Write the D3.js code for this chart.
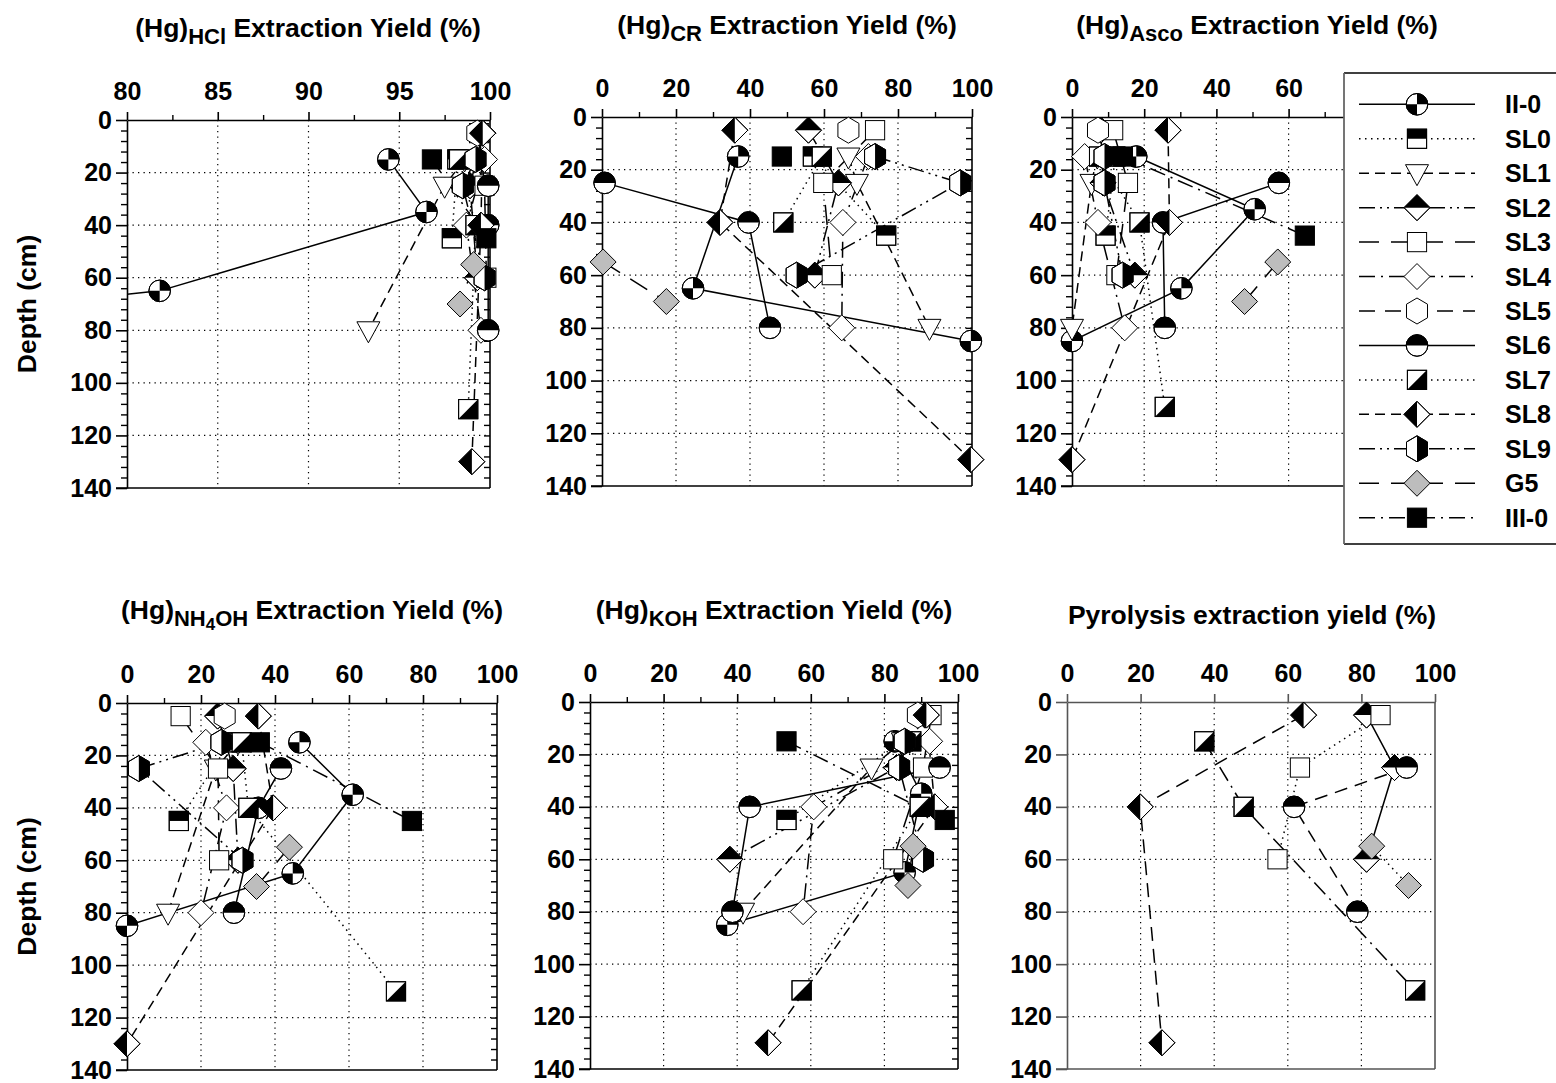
<!DOCTYPE html>
<html><head><meta charset="utf-8">
<script src="https://cdn.jsdelivr.net/npm/d3@7"></script>
<style>
body{margin:0;background:#fff}
text{font-family:"Liberation Sans",Arial,Helvetica,sans-serif;font-weight:bold;fill:#000}
</style>
</head><body>
<svg id="c" width="1556" height="1083" xmlns="http://www.w3.org/2000/svg"></svg>
<script>
// ---------------- DATA ----------------
const seriesNames = ["II-0","SL0","SL1","SL2","SL3","SL4","SL5","SL6","SL7","SL8","SL9","G5","III-0"];
const seriesDepths = [[15,35,65,85],[15,45],[15,25,80],[5,25,60],[5,25,60],[15,40,80],[5],[25,40,80],[15,40,110],[5,40,130],[15,25,60],[55,70],[15,45]];

const yieldHCl = [[94.4,96.5,81.8,54],[98.2,97.9],[98.6,97.5,93.3],[99.6,98.9,99.3],[99.4,99.7,99.8],[99.7,98.7,99.5],[99.3],[99.9,99.9,99.9],[98.3,99.2,98.8],[99.6,99.5,99.0],[99.2,98.5,99.7],[99.1,98.35],[96.8,99.8]];
const yieldCR = [[36.8,null,24.6,99.7],[57,76.8],[66.6,68.9,88.5],[55.8,63.9,57.5],[73.8,59.8,62.1],[72,65.1,64.8],[66.6],[0.7,39.6,45.4],[59.4,49,null],[35.9,31.9,99.7],[73.8,96.8,52.6],[0.3,17.4],[48.6,null]];
const yieldAsco = [[17.8,50.6,30.3,0],[12,9.3],[7,5.4,0],[8,8.6,17.4],[11.4,15.5,12.3],[3.5,7.2,14.6],[7.2],[57.3,25.2,25.7],[7.5,18.7,25.7],[26.6,27,0],[9,9,14],[57,47.8],[14.1,64.5]];
const yieldNH4OH = [[46.6,61,44.8,0],[27.8,14],[30,24,11.1],[24.5,28.7,30],[14.5,24.6,24.9],[21.3,26.9,20],[26.4],[41.6,35.5,28.9],[31,32.8,72.7],[35.5,39.5,0],[25.5,3.2,31.2],[43.9,35],[35.9,77]];
const yieldKOH = [[82.8,90,85.5,37.3],[85,53.4],[85,76.5,41.6],[91,83.3,38],[92.8,90.5,82.4],[92.3,60.8,57.9],[89.1],[95,43.4,38.7],[87.3,89.6,57.5],[91.4,93.7,48.4],[85.5,84,90.5],[87.8,86.4],[53.4,96.4]];
const yieldPyro = [[null,null,null,null],[null,null],[null,null,null],[81.4,89,81.4],[85.2,63.3,57.2],[null,null,null],[null],[92.3,61.7,78.9],[37.3,48,94.6],[64.3,19.9,25.8],[null,null,null],[82.8,92.8],[null,null]];

const depthTicks = [0,20,40,60,80,100,120,140];
const hclTicks = [80,85,90,95,100];
const pctTicks = [0,20,40,60,80,100];

// ---------------- STYLE ----------------
const dashOf = {"II-0":null,"SL0":"1.5,4.5","SL1":"10,6","SL2":"16,5,2,5,2,5","SL3":"20,12","SL4":"16,6,2,6","SL5":"16,10","SL6":null,"SL7":"1.5,4.5","SL8":"10,6","SL9":"16,5,2,5,2,5","G5":"20,12","III-0":"16,6,2,6"};
const pyroDash = {"SL2":null,"SL3":"1.5,4.5","SL6":"13,8","SL7":"16,6,2,6","SL8":"14,8","G5":"1.5,4.5"};

const TF = 26.5, TS = 22, TS2 = 17;
const panels = [
  {data:yieldHCl, dom:[80,100], ticks:hclTicks, minor:2.5, x0:127,x1:490,y0:120,y1:488, title:[["(Hg)",0,TF],["HCl",7,TS],[" Extraction Yield (%)",-7,TF]], tx:308, ty:37, depthLabel:true},
  {data:yieldCR, dom:[0,100], ticks:pctTicks, minor:10, x0:602,x1:972,y0:117,y1:486, title:[["(Hg)",0,TF],["CR",7,TS],[" Extraction Yield (%)",-7,TF]], tx:787, ty:34},
  {data:yieldAsco, dom:[0,100], ticks:pctTicks, minor:10, x0:1072,x1:1433,y0:117,y1:486, title:[["(Hg)",0,TF],["Asco",7,TS],[" Extraction Yield (%)",-7,TF]], tx:1257, ty:34},
  {data:yieldNH4OH, dom:[0,100], ticks:pctTicks, minor:10, x0:127,x1:497,y0:703,y1:1070, title:[["(Hg)",0,TF],["NH",7,TS],["4",4,TS2],["OH",-4,TS],[" Extraction Yield (%)",-7,TF]], tx:312, ty:619, depthLabel:true},
  {data:yieldKOH, dom:[0,100], ticks:pctTicks, minor:10, x0:590,x1:958,y0:702,y1:1069, title:[["(Hg)",0,TF],["KOH",7,TS],[" Extraction Yield (%)",-7,TF]], tx:774, ty:619},
  {data:yieldPyro, dom:[0,100], ticks:pctTicks, minor:null, x0:1067,x1:1435,y0:702,y1:1069, title:[["Pyrolysis extraction yield  (%)",0,TF]], tx:1252, ty:624, plain:true}
];

const svg = d3.select("#c");
const defs = svg.append("defs");

function drawMarker(g, s) {
  const sw = 1;
  const r = 10.8, h = 9.6, d = 13;
  const hex = "M0,-13 L10.5,-6.8 L10.5,6.8 L0,13 L-10.5,6.8 L-10.5,-6.8 Z";
  const base = (sel, fill) => sel.attr("fill", fill).attr("stroke","#000").attr("stroke-width",sw);
  const blk = (p) => g.append("path").attr("d", p).attr("fill","#000").attr("stroke","none");
  const outline = (sel) => sel.attr("fill","none").attr("stroke","#000").attr("stroke-width",sw);
  const diamond = `M0,${-d} L${d},0 L0,${d} L${-d},0 Z`;
  switch (s) {
    case "II-0":
      base(g.append("circle").attr("r", r), "#fff");
      blk(`M0,0 L0,${-r} A${r},${r} 0 0 1 ${r},0 Z`);
      blk(`M0,0 L0,${r} A${r},${r} 0 0 1 ${-r},0 Z`);
      outline(g.append("circle").attr("r", r));
      break;
    case "SL6":
      base(g.append("circle").attr("r", r), "#fff");
      blk(`M${-r},0 A${r},${r} 0 0 1 ${r},0 Z`);
      outline(g.append("circle").attr("r", r));
      break;
    case "SL0":
      base(g.append("rect").attr("x",-h).attr("y",-h).attr("width",2*h).attr("height",2*h), "#fff");
      blk(`M${-h},${-h} H${h} V0 H${-h} Z`);
      outline(g.append("rect").attr("x",-h).attr("y",-h).attr("width",2*h).attr("height",2*h));
      break;
    case "SL3":
      base(g.append("rect").attr("x",-h).attr("y",-h).attr("width",2*h).attr("height",2*h), "#fff");
      break;
    case "III-0":
      base(g.append("rect").attr("x",-h).attr("y",-h).attr("width",2*h).attr("height",2*h), "#000");
      break;
    case "SL7":
      base(g.append("rect").attr("x",-h).attr("y",-h).attr("width",2*h).attr("height",2*h), "#fff");
      blk(`M${h},${-h} L${h},${h} L${-h},${h} Z`);
      outline(g.append("rect").attr("x",-h).attr("y",-h).attr("width",2*h).attr("height",2*h));
      break;
    case "SL1":
      base(g.append("path").attr("d","M-11.5,-8.5 L11.5,-8.5 L0,12.5 Z"), "#fff");
      break;
    case "SL2":
      base(g.append("path").attr("d",diamond), "#fff");
      blk(`M${-d},0 L0,${-d} L${d},0 Z`);
      outline(g.append("path").attr("d",diamond));
      break;
    case "SL8":
      base(g.append("path").attr("d",diamond), "#fff");
      blk(`M0,${-d} L${-d},0 L0,${d} Z`);
      outline(g.append("path").attr("d",diamond));
      break;
    case "SL4":
      base(g.append("path").attr("d",diamond), "#fff");
      break;
    case "G5":
      base(g.append("path").attr("d",diamond), "#bdbdbd");
      break;
    case "SL5":
      base(g.append("path").attr("d",hex), "#fff");
      break;
    case "SL9":
      base(g.append("path").attr("d",hex), "#fff");
      blk("M0,-13 L10.5,-6.8 L10.5,6.8 L0,13 Z");
      outline(g.append("path").attr("d",hex));
      break;
  }
}

panels.forEach((p, pi) => {
  const x = d3.scaleLinear().domain(p.dom).range([p.x0, p.x1]);
  const y = d3.scaleLinear().domain([0,140]).range([p.y0, p.y1]);
  const g = svg.append("g");
  const frameCol = p.plain ? "#555" : "#000";

  // gridlines
  const gx = p.ticks.filter(t => t > p.dom[0] && t < p.dom[1]);
  const gy = depthTicks.filter(t => t > 0 && t < 140);
  g.append("g").selectAll("line").data(gx).join("line")
    .attr("x1", d => x(d)).attr("x2", d => x(d)).attr("y1", p.y0).attr("y2", p.y1)
    .attr("stroke","#000").attr("stroke-width",1.2).attr("stroke-dasharray","1.3,4.2");
  g.append("g").selectAll("line").data(gy).join("line")
    .attr("x1", p.x0).attr("x2", p.x1).attr("y1", d => y(d)).attr("y2", d => y(d))
    .attr("stroke","#000").attr("stroke-width",1.2).attr("stroke-dasharray","1.3,4.2");

  // frame: bottom and right
  g.append("line").attr("x1", p.x0-11).attr("x2", p.x1).attr("y1", p.y1).attr("y2", p.y1)
    .attr("stroke", frameCol).attr("stroke-width",1.6);
  g.append("line").attr("x1", p.x1).attr("x2", p.x1).attr("y1", p.y0).attr("y2", p.y1)
    .attr("stroke", frameCol).attr("stroke-width",1.6);

  // top axis
  const topAxis = d3.axisTop(x).tickValues(p.ticks).tickSizeOuter(0).tickSizeInner(8).tickPadding(12).tickFormat(d3.format("d"));
  const ta = g.append("g").attr("transform", `translate(0,${p.y0})`).call(topAxis);
  ta.select(".domain").attr("stroke", frameCol).attr("stroke-width",1.6);
  ta.selectAll(".tick line").attr("stroke", frameCol).attr("stroke-width",1.6);
  ta.selectAll(".tick text").attr("font-size", 25).attr("font-family", null).attr("fill","#000");
  if (p.minor) {
    const mv = d3.range(p.dom[0] + p.minor, p.dom[1], p.minor*2);
    const ma = d3.axisTop(x).tickValues(mv).tickSizeOuter(0).tickSizeInner(5).tickFormat("");
    const mg = g.append("g").attr("transform", `translate(0,${p.y0})`).call(ma);
    mg.select(".domain").remove();
    mg.selectAll(".tick line").attr("stroke","#000").attr("stroke-width",1.4);
  }

  // left axis
  const leftAxis = d3.axisLeft(y).tickValues(depthTicks).tickSizeOuter(0).tickSizeInner(11).tickPadding(4).tickFormat(d3.format("d"));
  const la = g.append("g").attr("transform", `translate(${p.x0},0)`).call(leftAxis);
  la.select(".domain").attr("stroke", frameCol).attr("stroke-width",1.6);
  la.selectAll(".tick line").attr("stroke", frameCol).attr("stroke-width",1.6);
  la.selectAll(".tick text").attr("font-size", 25).attr("font-family", null).attr("fill","#000");

  if (p.minor) {
    const mvy = d3.range(4, 140, 4).filter(v => v % 20 !== 0);
    const ml = d3.axisLeft(y).tickValues(mvy).tickSizeOuter(0).tickSizeInner(6).tickFormat("");
    const mlg = g.append("g").attr("transform", `translate(${p.x0},0)`).call(ml);
    mlg.select(".domain").remove();
    mlg.selectAll(".tick line").attr("stroke","#000").attr("stroke-width",1.4);
    const mr = d3.axisLeft(y).tickValues(d3.range(4, 140, 4)).tickSizeOuter(0).tickSizeInner(6).tickFormat("");
    const mrg = g.append("g").attr("transform", `translate(${p.x1},0)`).call(mr);
    mrg.select(".domain").remove();
    mrg.selectAll(".tick line").attr("stroke","#000").attr("stroke-width",1.4);
  }

  // title
  const t = g.append("text").attr("x", p.tx).attr("y", p.ty).attr("text-anchor","middle");
  p.title.forEach(([txt, dy, fs]) => {
    t.append("tspan").attr("dy", dy).attr("font-size", fs).text(txt);
  });

  if (p.depthLabel) {
    g.append("text").attr("transform", `translate(36,${(p.y0+p.y1)/2}) rotate(-90)`)
      .attr("text-anchor","middle").attr("font-size",26.5).text("Depth (cm)");
  }

  // clip for lines
  const cid = "clip" + pi;
  defs.append("clipPath").attr("id", cid).append("rect")
    .attr("x", p.x0).attr("y", p.y0).attr("width", p.x1 - p.x0).attr("height", p.y1 - p.y0);

  const line = d3.line().x(d => x(d.v)).y(d => y(d.depth));
  const pts = seriesNames.map((s, si) => seriesDepths[si].map((dep, k) => ({depth: dep, v: p.data[si][k]})).filter(d => d.v !== null && d.v !== undefined));

  const lg = g.append("g").attr("clip-path", `url(#${cid})`);
  seriesNames.forEach((s, si) => {
    if (pts[si].length < 2) return;
    const dash = p.plain && (s in pyroDash) ? pyroDash[s] : dashOf[s];
    lg.append("path").attr("d", line(pts[si])).attr("fill","none")
      .attr("stroke","#000").attr("stroke-width",1.5)
      .attr("stroke-dasharray", dash);
  });

  const mkg = g.append("g");
  seriesNames.forEach((s, si) => {
    pts[si].filter(d => d.v >= p.dom[0] && d.v <= p.dom[1]).forEach(d => {
      const m = mkg.append("g").attr("transform", `translate(${x(d.v)},${y(d.depth)})`);
      drawMarker(m, s);
    });
  });
});

// ---------------- LEGEND ----------------
const lgY = d3.scalePoint().domain(seriesNames).range([104.3, 517.7]);
const leg = svg.append("g");
leg.append("rect").attr("x",1344).attr("y",73).attr("width",260).attr("height",471)
  .attr("fill","#fff").attr("stroke","none");
leg.append("line").attr("x1",1344).attr("x2",1560).attr("y1",73).attr("y2",73).attr("stroke","#000").attr("stroke-width",1.6);
leg.append("line").attr("x1",1344).attr("x2",1560).attr("y1",544).attr("y2",544).attr("stroke","#000").attr("stroke-width",1.6);
leg.append("line").attr("x1",1344).attr("x2",1344).attr("y1",73).attr("y2",544).attr("stroke","#666").attr("stroke-width",1.8);
seriesNames.forEach(s => {
  const yy = lgY(s);
  leg.append("line").attr("x1",1359).attr("x2",1475).attr("y1",yy).attr("y2",yy)
    .attr("stroke","#000").attr("stroke-width",1.5).attr("stroke-dasharray", dashOf[s]);
  drawMarker(leg.append("g").attr("transform", `translate(1417,${yy})`), s);
  leg.append("text").attr("x",1505).attr("y",yy).attr("dy","0.36em").attr("font-size",25).text(s);
});
</script>
</body></html>
